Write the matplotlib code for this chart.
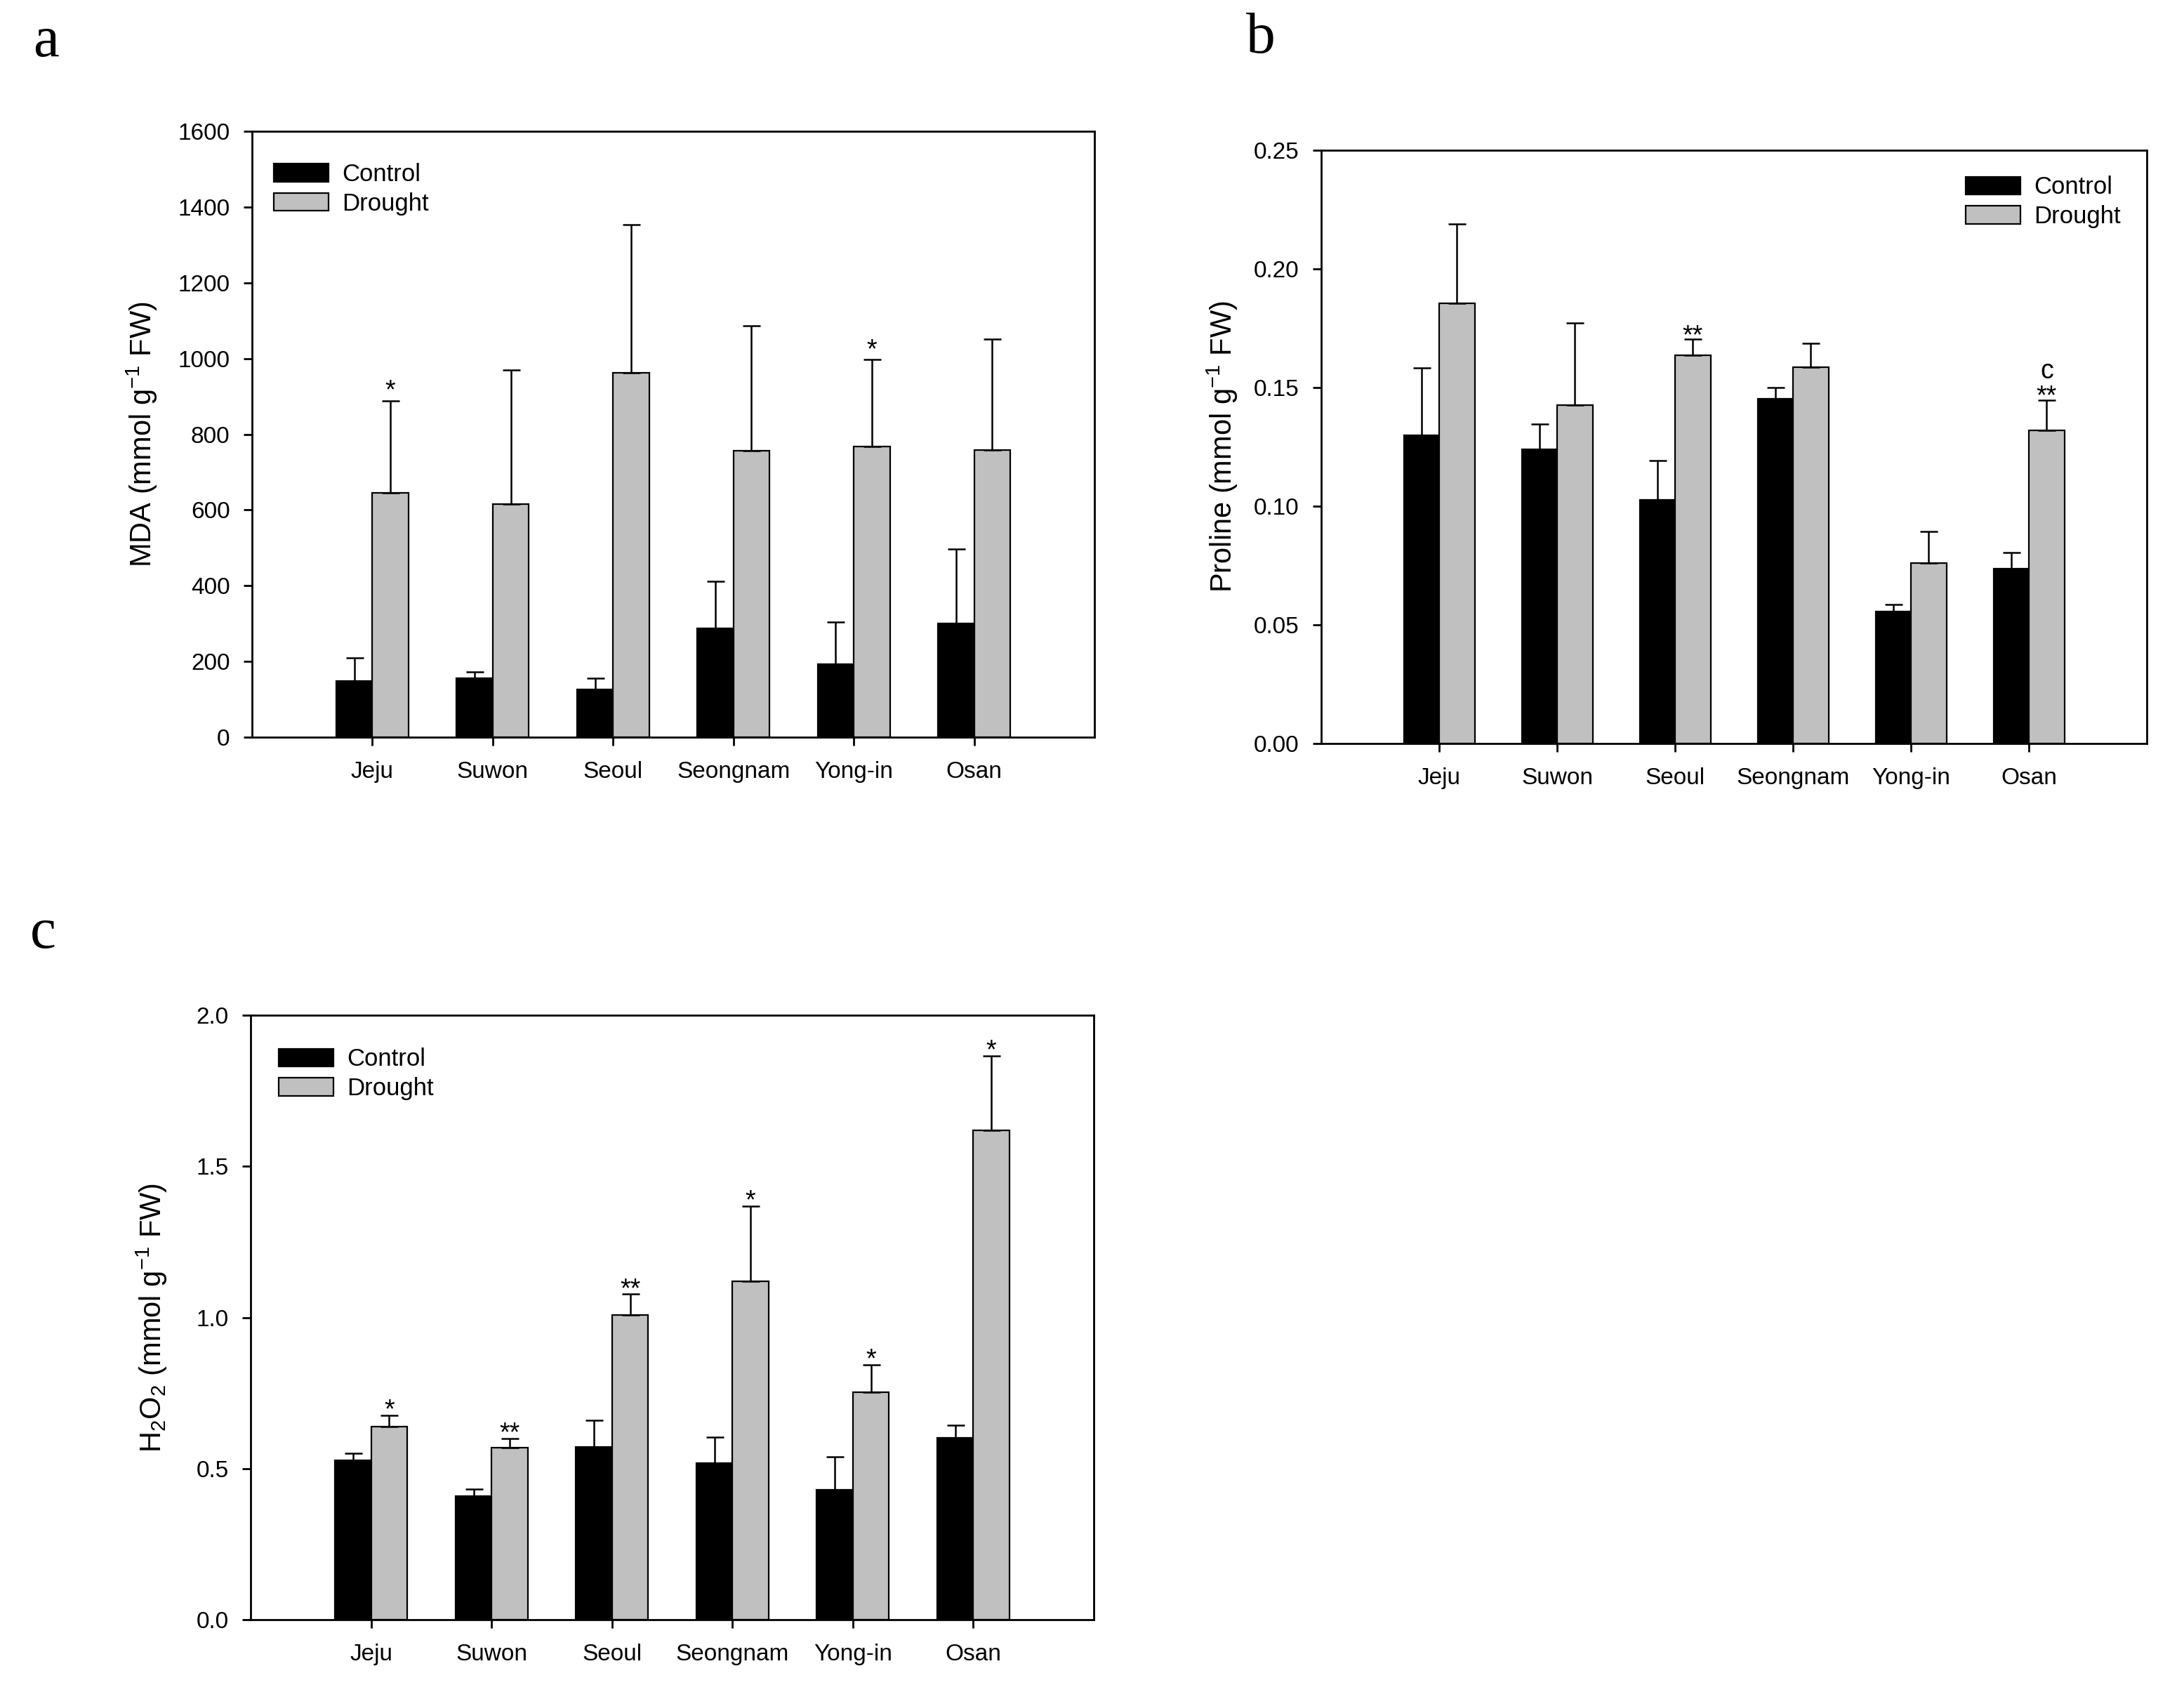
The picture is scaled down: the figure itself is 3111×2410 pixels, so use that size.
import matplotlib
matplotlib.use("Agg")
import matplotlib.pyplot as plt
import numpy as np
from matplotlib.patches import Patch

plt.rcParams['font.family'] = ['Liberation Sans', 'DejaVu Sans']
plt.rcParams['mathtext.fontset'] = 'custom'
plt.rcParams['mathtext.rm'] = 'Liberation Sans'
plt.rcParams['mathtext.it'] = 'Liberation Sans:italic'
plt.rcParams['mathtext.bf'] = 'Liberation Sans:bold'

sites = ["Jeju", "Suwon", "Seoul", "Seongnam", "Yong-in", "Osan"]

# Panel a: MDA
mda_control = [148, 155, 126, 288, 193, 300]
mda_control_err = [61, 18, 30, 124, 111, 197]
mda_drought = [646, 615, 962, 757, 767, 759]
mda_drought_err = [243, 355, 392, 330, 230, 292]
mda_sig = ["*", "", "", "", "*", ""]

# Panel b: Proline
pro_control = [0.1298, 0.1241, 0.1026, 0.1454, 0.0555, 0.0738]
pro_control_err = [0.0285, 0.0104, 0.0167, 0.0045, 0.0032, 0.0066]
pro_drought = [0.1855, 0.1427, 0.1635, 0.1585, 0.0761, 0.1318]
pro_drought_err = [0.0335, 0.0344, 0.0068, 0.0100, 0.0133, 0.0129]
pro_sig = ["", "", "**", "", "", "**"]
pro_extra = ["", "", "", "", "", "c"]

# Panel c: H2O2
h2o2_control = [0.527, 0.409, 0.572, 0.518, 0.430, 0.602]
h2o2_control_err = [0.023, 0.023, 0.089, 0.086, 0.109, 0.041]
h2o2_drought = [0.638, 0.570, 1.009, 1.120, 0.753, 1.618]
h2o2_drought_err = [0.038, 0.030, 0.068, 0.249, 0.091, 0.248]
h2o2_sig = ["*", "**", "**", "*", "*", "*"]

GREY = '#c0c0c0'
W = 0.3
TICK_FS = 12
LAB_FS = 15
LEG_FS = 12.5
SIG_FS = 13.5

fig = plt.figure(figsize=(3111/200, 2410/200), dpi=200)

def panel(rect, ctrl, cerr, drt, derr, ylim, yticks, yfmt, ylabel, sig,
          legend_loc, legend_anchor, label_x, sig_off, extra=None):
    ax = fig.add_axes(rect)
    x = np.arange(1, len(sites) + 1)
    ax.bar(x - W/2, ctrl, W, color='black', edgecolor='black', linewidth=0.8, zorder=2)
    ax.bar(x + W/2, drt, W, color=GREY, edgecolor='black', linewidth=0.8, zorder=2)
    ax.errorbar(x - W/2, ctrl, yerr=[np.zeros(len(ctrl)), cerr], fmt='none',
                ecolor='black', elinewidth=0.9, capsize=4.5, capthick=0.9, zorder=3)
    ax.errorbar(x + W/2, drt, yerr=[np.zeros(len(drt)), derr], fmt='none',
                ecolor='black', elinewidth=0.9, capsize=4.5, capthick=0.9, zorder=3)
    for i in range(len(sites)):
        top = drt[i] + derr[i]
        if sig[i]:
            ax.annotate(sig[i], (x[i] + W/2, top), xytext=(0, sig_off),
                        textcoords='offset points', ha='center', va='baseline',
                        fontsize=SIG_FS)
        if extra is not None and extra[i]:
            ax.annotate(extra[i], (x[i] + W/2, top), xytext=(0, sig_off + 13),
                        textcoords='offset points', ha='center', va='baseline',
                        fontsize=SIG_FS)
    ax.set_xlim(0, 7)
    ax.set_ylim(*ylim)
    ax.set_yticks(yticks)
    ax.set_yticklabels([yfmt.format(v) for v in yticks])
    ax.set_xticks(x)
    ax.set_xticklabels(sites)
    ax.tick_params(axis='both', direction='out', length=4.3, width=1.0,
                   labelsize=TICK_FS, top=False, right=False)
    ax.tick_params(axis='y', pad=7)
    ax.tick_params(axis='x', pad=8)
    for s in ax.spines.values():
        s.set_linewidth(1.0)
    ax.set_ylabel(ylabel, fontsize=LAB_FS)
    ax.yaxis.set_label_coords(label_x, 0.5)
    handles = [Patch(facecolor='black', edgecolor='black', linewidth=0.8, label='Control'),
               Patch(facecolor=GREY, edgecolor='black', linewidth=0.8, label='Drought')]
    ax.legend(handles=handles, loc=legend_loc, bbox_to_anchor=legend_anchor,
              frameon=False, fontsize=LEG_FS, borderpad=0, borderaxespad=0,
              handlelength=2.25, handleheight=0.75, handletextpad=0.55,
              labelspacing=0.25)
    return ax

panel([0.1154, 0.5643, 0.3857, 0.3581], mda_control, mda_control_err,
      mda_drought, mda_drought_err, (0, 1600), list(range(0, 1601, 200)), "{:.0f}",
      r'MDA (mmol g$^{-1}$ FW)', mda_sig, 'upper left', (0.026, 0.948), -0.110, 1.0)

panel([0.605, 0.5606, 0.378, 0.3506], pro_control, pro_control_err,
      pro_drought, pro_drought_err, (0, 0.25), [0, 0.05, 0.10, 0.15, 0.20, 0.25], "{:.2f}",
      r'Proline (mmol g$^{-1}$ FW)', pro_sig, 'upper right', (0.968, 0.957), -0.099,
      -2.0, extra=pro_extra)

panel([0.1148, 0.0427, 0.386, 0.3573], h2o2_control, h2o2_control_err,
      h2o2_drought, h2o2_drought_err, (0, 2.0), [0, 0.5, 1.0, 1.5, 2.0], "{:.1f}",
      r'H$_2$O$_2$ (mmol g$^{-1}$ FW)', h2o2_sig, 'upper left', (0.033, 0.946), -0.097,
      -1.3)

for txt, xx, yy in [("a", 0.0151, 0.967), ("b", 0.5706, 0.969), ("c", 0.0138, 0.44)]:
    fig.text(xx, yy, txt, fontsize=30, family=['Liberation Serif', 'DejaVu Serif'],
             ha='left', va='baseline')

fig.savefig("out.png", dpi=200)
